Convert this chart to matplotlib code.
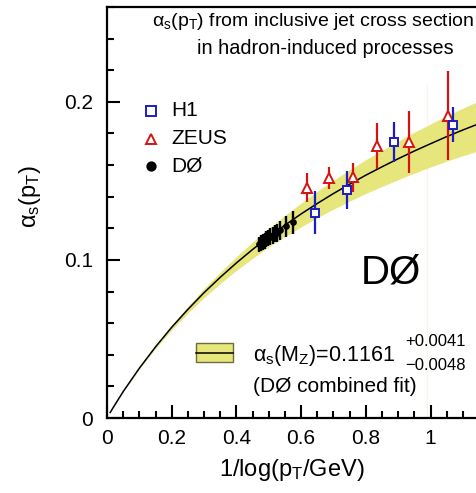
import matplotlib
matplotlib.use('Agg')
import matplotlib.pyplot as plt
from matplotlib.patches import Rectangle
from matplotlib.lines import Line2D
from matplotlib.ticker import FixedLocator, MultipleLocator

plt.rcParams['font.family'] = ['Liberation Sans', 'DejaVu Sans']
plt.rcParams['mathtext.fontset'] = 'custom'
plt.rcParams['mathtext.rm'] = 'Liberation Sans'
plt.rcParams['mathtext.it'] = 'Liberation Sans'
plt.rcParams['mathtext.sf'] = 'Liberation Sans'
plt.rcParams['mathtext.bf'] = 'Liberation Sans:bold'

# ---------------- data ----------------
fit_x = [0.01, 0.02, 0.05, 0.10, 0.15, 0.20, 0.25, 0.30, 0.35, 0.40, 0.45, 0.50,
         0.55, 0.60, 0.65, 0.70, 0.75, 0.80, 0.85, 0.90, 0.95, 1.00, 1.05, 1.10, 1.15]
fit_y = [0.0035, 0.0069, 0.0167, 0.0315, 0.0450, 0.0574, 0.0687, 0.0793, 0.0890,
         0.0981, 0.1066, 0.1146, 0.1220, 0.1291, 0.1357, 0.1420, 0.1479, 0.1536,
         0.1589, 0.1640, 0.1689, 0.1735, 0.1780, 0.1822, 0.1862]
band_hi = [0.0035, 0.0069, 0.0168, 0.0319, 0.0458, 0.0588, 0.0707, 0.0819, 0.0923,
           0.1021, 0.1113, 0.1201, 0.1282, 0.1360, 0.1434, 0.1504, 0.1570, 0.1634,
           0.1694, 0.1752, 0.1808, 0.1860, 0.1912, 0.1960, 0.2006]
band_lo = [0.0035, 0.0069, 0.0166, 0.0310, 0.0440, 0.0558, 0.0664, 0.0762, 0.0851,
           0.0934, 0.1010, 0.1082, 0.1147, 0.1209, 0.1267, 0.1321, 0.1372, 0.1420,
           0.1465, 0.1508, 0.1549, 0.1588, 0.1625, 0.1659, 0.1692]

d0_x = [0.470, 0.476, 0.481, 0.487, 0.493, 0.499, 0.505, 0.512, 0.519, 0.525,
        0.534, 0.552, 0.574]
d0_y = [0.1098, 0.1106, 0.1113, 0.1121, 0.1130, 0.1139, 0.1147, 0.1157, 0.1166,
        0.1170, 0.1187, 0.1213, 0.1238]
d0_err = [0.0050, 0.0050, 0.0050, 0.0050, 0.0051, 0.0052, 0.0053, 0.0054, 0.0055,
          0.0056, 0.0058, 0.0065, 0.0074]

h1_x = [0.643, 0.742, 0.886, 1.068]
h1_y = [0.1300, 0.1444, 0.1747, 0.1856]
h1_err = [0.0136, 0.0120, 0.0125, 0.0111]

zeus_x = [0.618, 0.685, 0.760, 0.835, 0.935, 1.053]
zeus_y = [0.1457, 0.1516, 0.1522, 0.1722, 0.1745, 0.1913]
zeus_err = [0.0090, 0.0070, 0.0090, 0.0147, 0.0194, 0.0280]

x_ticks = [0, 0.2, 0.4, 0.6, 0.8, 1.0]
x_ticklabels = ['0', '0.2', '0.4', '0.6', '0.8', '1']
y_ticks = [0, 0.1, 0.2]
y_ticklabels = ['0', '0.1', '0.2']

# ---------------- figure ----------------
W, H = 477, 493
fig = plt.figure(figsize=(W / 100, H / 100), dpi=100)
ax = fig.add_axes([107 / W, 75 / H, (W - 107) / W, (486 - 75) / H])
ax.set_xlim(0, 1.1437)
ax.set_ylim(0, 0.26)

band_col = '#e6e67c'
h1_col = '#1c1cc4'
zeus_col = '#d41414'

ax.axvline(0.988, ymin=0, ymax=0.81, color='#f5f5ec', lw=1.0, zorder=0.5)
ax.fill_between(fit_x, band_lo, band_hi, color=band_col, lw=0, zorder=1)
ax.plot(fit_x, fit_y, color='black', lw=1.1, zorder=2)

ax.errorbar(d0_x, d0_y, yerr=d0_err, fmt='o', color='black', ms=3.8,
            elinewidth=1.7, capsize=0, zorder=3)
ax.errorbar(zeus_x, zeus_y, yerr=zeus_err, fmt='^', color=zeus_col, mfc='white',
            mec=zeus_col, ms=7, mew=1.4, elinewidth=1.6, capsize=0, zorder=4)
ax.errorbar(h1_x, h1_y, yerr=h1_err, fmt='s', color=h1_col, mfc='white',
            mec=h1_col, ms=6, mew=1.4, elinewidth=1.6, capsize=0, zorder=5)

# axes styling
for s in ['left', 'bottom', 'top']:
    ax.spines[s].set_linewidth(1.6)
ax.spines['right'].set_visible(False)
ax.xaxis.set_major_locator(FixedLocator(x_ticks))
ax.set_xticklabels(x_ticklabels)
ax.yaxis.set_major_locator(FixedLocator(y_ticks))
ax.set_yticklabels(y_ticklabels)
ax.xaxis.set_minor_locator(MultipleLocator(0.05))
ax.yaxis.set_minor_locator(MultipleLocator(0.02))
ax.tick_params(which='both', direction='in', width=1.5, top=False, right=False,
               labelsize=15)
ax.tick_params(which='major', length=9.5)
ax.tick_params(which='minor', length=4.8)
ax.tick_params(axis='y', pad=10)
ax.tick_params(axis='x', pad=8)


def fx(px):
    return px / W


def fy(py):
    return 1 - py / H


# axis labels
fig.text(fx(292), fy(470), r'1/log(p$_\mathrm{T}$/GeV)', ha='center', va='center',
         fontsize=17)
fig.text(fx(30), fy(196), r'$\alpha_\mathrm{s}$(p$_\mathrm{T}$)', ha='center',
         va='center', fontsize=17, rotation=90)

# title text
fig.text(fx(152), fy(22), r'$\alpha_\mathrm{s}$(p$_\mathrm{T}$) from inclusive jet cross section',
         ha='left', va='center', fontsize=14)
fig.text(fx(197), fy(48), 'in hadron-induced processes', ha='left', va='center',
         fontsize=14.3)

# legend for experiments
leg_items = [('H1', 's', h1_col, 'white', 6.5, 110.5),
             ('ZEUS', '^', zeus_col, 'white', 7.5, 138.5),
             ('DØ', 'o', 'black', 'black', 6, 166)]
for label, mk, col, fc, ms, py in leg_items:
    fig.add_artist(Line2D([fx(151.5)], [fy(py)], transform=fig.transFigure,
                          marker=mk, color=col, mfc=fc, mec=col, ms=ms, mew=1.4,
                          ls='none'))
    fig.text(fx(171), fy(py), label, ha='left', va='center', fontsize=15)

# big DØ
fig.text(fx(391), fy(272), 'DØ', ha='center', va='center', fontsize=29)

# band legend
fig.add_artist(Rectangle((fx(196), fy(362)), (233 - 196) / W, (362 - 343) / H,
                         transform=fig.transFigure, facecolor=band_col,
                         edgecolor='#6e6e3a', lw=1.0))
fig.add_artist(Line2D([fx(196), fx(233)], [fy(352.5), fy(352.5)],
                      transform=fig.transFigure, color='black', lw=1.1))
fig.text(fx(253), fy(356), r'$\alpha_\mathrm{s}$(M$_\mathrm{Z}$)=0.1161', ha='left',
         va='center', fontsize=15.5)
fig.text(fx(405), fy(341), '+0.0041', ha='left', va='center', fontsize=12)
fig.text(fx(405), fy(365), '\u22120.0048', ha='left', va='center', fontsize=12)
fig.text(fx(253), fy(387), '(DØ combined fit)', ha='left', va='center', fontsize=15)

fig.savefig('out.png', dpi=100)
